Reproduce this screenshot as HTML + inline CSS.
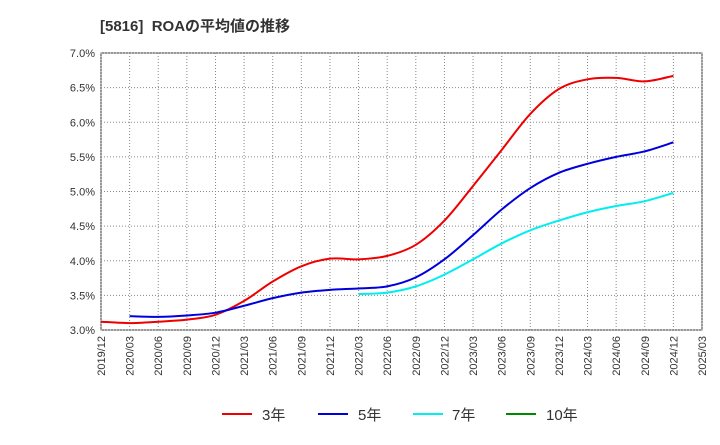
<!DOCTYPE html>
<html><head><meta charset="utf-8"><style>
body{margin:0;background:#fff;}
svg text{font-family:"Liberation Sans","Noto Sans CJK JP",sans-serif;}
</style></head><body>
<svg id="chart" width="720" height="440">
<text x="100" y="31" font-size="15" font-weight="bold" fill="#333">[5816]&#160;&#160;ROAの平均値の推移</text>
<rect x="101" y="53" width="601" height="277" fill="#fff" stroke="#333"/>
<g id="grid"></g><g id="axes"></g><g id="series"></g>
<g>
<line x1="222" y1="414" x2="252" y2="414" stroke="#e00" stroke-width="2"/><text x="262" y="420" font-size="15" fill="#333">3年</text>
<line x1="318" y1="414" x2="348" y2="414" stroke="#00d" stroke-width="2"/><text x="358" y="420" font-size="15" fill="#333">5年</text>
<line x1="413" y1="414" x2="443" y2="414" stroke="#0ee" stroke-width="2"/><text x="452" y="420" font-size="15" fill="#333">7年</text>
<line x1="506" y1="414" x2="536" y2="414" stroke="#080" stroke-width="2"/><text x="546" y="420" font-size="15" fill="#333">10年</text>
</g>
</svg>
<script>
const categories=["2019/12","2020/03","2020/06","2020/09","2020/12","2021/03","2021/06","2021/09","2021/12","2022/03","2022/06","2022/09","2022/12","2023/03","2023/06","2023/09","2023/12","2024/03","2024/06","2024/09","2024/12","2025/03"];
const yTicks=[3.0,3.5,4.0,4.5,5.0,5.5,6.0,6.5,7.0];
const roa3=[3.12,3.10,3.12,3.15,3.22,3.42,3.70,3.92,4.03,4.02,4.07,4.23,4.58,5.08,5.60,6.12,6.48,6.62,6.64,6.59,6.67];
const roa5=[null,3.20,3.19,3.21,3.25,3.35,3.46,3.54,3.58,3.60,3.63,3.76,4.02,4.37,4.74,5.05,5.27,5.40,5.50,5.58,5.71];
const roa7=[null,null,null,null,null,null,null,null,null,3.52,3.54,3.63,3.80,4.02,4.25,4.44,4.58,4.70,4.79,4.86,4.98];
const roa10=[];
const X0=101,X1=702,Y0=330,Y1=53;
const xs=i=>X0+(X1-X0)*i/(categories.length-1);
const ys=v=>Y0-(v-3.0)/4.0*(Y0-Y1);
const NS="http://www.w3.org/2000/svg";
const grid=document.getElementById('grid'),axes=document.getElementById('axes'),ser=document.getElementById('series');
function mk(t,a,p){const e=document.createElementNS(NS,t);for(const k in a)e.setAttribute(k,a[k]);p.appendChild(e);return e;}
yTicks.forEach(v=>{
 const y=ys(v);
 const g=mk('line',{x1:X0,x2:X1,y1:y,y2:y,stroke:'#888','stroke-dasharray':'1,2'},grid);
 
 
 const t=mk('text',{x:X0-6,y:y+4,'text-anchor':'end','font-size':'11',fill:'#333'},axes);
 t.textContent=v.toFixed(1)+'%';
 
 
});
categories.forEach((c,i)=>{
 const x=xs(i);
 const g=mk('line',{x1:x,x2:x,y1:Y1,y2:Y0,stroke:'#888','stroke-dasharray':'1,2'},grid);
 
 
 const t=mk('text',{x:0,y:0,'text-anchor':'end','font-size':'11',fill:'#333',transform:`translate(${x+4},${Y0+6}) rotate(-90)`},axes);
 t.textContent=c;
 
 
});
function path(data,color,name){
 const p=[];data.forEach((v,i)=>{if(v!=null)p.push([xs(i),ys(v)]);});
 if(p.length<2)return;
 let d=`M${p[0][0]},${p[0][1]}`;
 for(let i=0;i<p.length-1;i++){
  const a=p[Math.max(0,i-1)],b=p[i],c=p[i+1],e=p[Math.min(p.length-1,i+2)];
  d+=` C${b[0]+(c[0]-a[0])/6},${b[1]+(c[1]-a[1])/6} ${c[0]-(e[0]-b[0])/6},${c[1]-(e[1]-b[1])/6} ${c[0]},${c[1]}`;
 }
 const el=mk('path',{d:d,fill:'none',stroke:color,'stroke-width':2},ser);
 
 
}
path(roa3,'#e00','line-3yr');
path(roa5,'#00d','line-5yr');
path(roa7,'#0ee','line-7yr');
path(roa10,'#080','line-10yr');
</script>
</body></html>
